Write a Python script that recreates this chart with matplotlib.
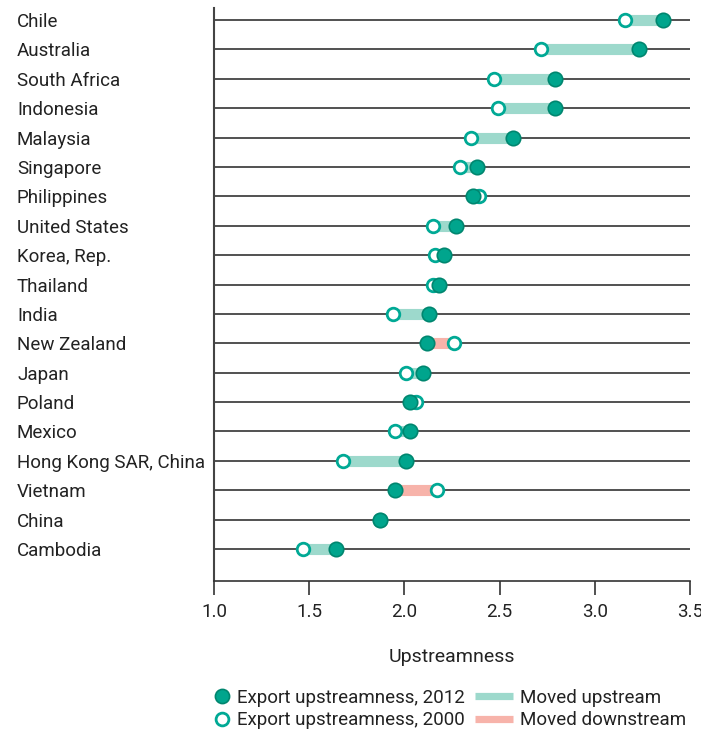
import matplotlib
matplotlib.use("Agg")
import matplotlib.pyplot as plt
from matplotlib.lines import Line2D
from matplotlib import font_manager as fm
from matplotlib.transforms import Bbox

countries = ["Chile", "Australia", "South Africa", "Indonesia", "Malaysia", "Singapore",
             "Philippines", "United States", "Korea, Rep.", "Thailand", "India", "New Zealand",
             "Japan", "Poland", "Mexico", "Hong Kong SAR, China", "Vietnam", "China", "Cambodia"]
up2000 = [3.16, 2.72, 2.47, 2.49, 2.35, 2.29, 2.39, 2.15, 2.16, 2.15, 1.94, 2.26,
          2.01, 2.06, 1.95, 1.68, 2.17, 1.87, 1.47]
up2012 = [3.36, 3.23, 2.79, 2.79, 2.57, 2.38, 2.36, 2.27, 2.21, 2.18, 2.13, 2.12,
          2.10, 2.03, 2.03, 2.01, 1.95, 1.87, 1.64]
xticks = [1.0, 1.5, 2.0, 2.5, 3.0, 3.5]

names = {f.name for f in fm.fontManager.ttflist}
fam = "Liberation Sans Narrow" if "Liberation Sans Narrow" in names else "Roboto"
plt.rcParams["font.family"] = [fam, "DejaVu Sans"]

TEAL = "#00A58D"
TEAL_EDGE = "#00866F"
OPEN_EDGE = "#00A995"
UP = "#9DD9CC"
DOWN = "#F7B3AA"
TXT = "#222222"
FS = 13.5

fig = plt.figure(figsize=(7.15, 7.38), dpi=100)
ax = fig.add_axes([214/715, 1-581/738, 476/715, 573/738])

n = len(countries)
ys = list(range(n))
for y in ys:
    ax.axhline(y, color="#222222", lw=1.1, zorder=1)

for y, a, b in zip(ys, up2000, up2012):
    col = UP if b >= a else DOWN
    ax.plot([a, b], [y, y], color=col, lw=8, solid_capstyle="butt", zorder=2)

ax.scatter(up2000, ys, s=82, facecolor="white", edgecolor=OPEN_EDGE, linewidth=2.0, zorder=3)
ax.scatter(up2012, ys, s=108, facecolor=TEAL, edgecolor=TEAL_EDGE, linewidth=1.2, zorder=4)

ax.set_xlim(1.0, 3.5)
ax.set_ylim(n - 1 + 1.09, -0.41)
ax.set_xticks(xticks)
ax.set_xticklabels([f"{v:.1f}" for v in xticks])
ax.set_yticks(ys)
ax.set_yticklabels(countries)
ax.tick_params(axis="y", length=0, pad=0, labelsize=FS, labelcolor=TXT)
for lab in ax.get_yticklabels():
    lab.set_horizontalalignment("left")
    lab.set_x(-197/476)
ax.tick_params(axis="x", length=10, width=1.2, color="#333333", pad=6, labelsize=FS, labelcolor=TXT)
for s in ["top", "right"]:
    ax.spines[s].set_visible(False)
ax.spines["left"].set_color("#444444")
ax.spines["left"].set_linewidth(1.5)
ax.spines["bottom"].set_color("#333333")
ax.spines["bottom"].set_linewidth(1.2)
ax.set_xlabel("Upstreamness", fontsize=14, color=TXT, labelpad=19.5)

# clip last tick label near the figure's right edge like the original
last = ax.get_xticklabels()[-1]
last.set_clip_box(Bbox([[0, 0], [701, 738]]))
last.set_clip_on(True)

mk_handles = [
    Line2D([], [], marker="o", ls="none", markersize=10.2, markerfacecolor=TEAL,
           markeredgecolor=TEAL_EDGE, markeredgewidth=1.2),
    Line2D([], [], marker="o", ls="none", markersize=9.2, markerfacecolor="white",
           markeredgecolor=OPEN_EDGE, markeredgewidth=2.0),
]
mk_labels = ["Export upstreamness, 2012", "Export upstreamness, 2000"]
ln_handles = [Line2D([], [], color=UP, lw=5.2, solid_capstyle="butt"),
              Line2D([], [], color=DOWN, lw=5.2, solid_capstyle="butt")]
ln_labels = ["Moved upstream", "Moved downstream"]

fig.legend(mk_handles, mk_labels, loc="center left",
           bbox_to_anchor=(214.5/715, 1-709/738), frameon=False,
           fontsize=FS, handlelength=0.8, handletextpad=0.4,
           labelspacing=0.25, borderpad=0, borderaxespad=0, labelcolor=TXT)
fig.legend(ln_handles, ln_labels, loc="center left",
           bbox_to_anchor=(475/715, 1-709/738), frameon=False,
           fontsize=FS, handlelength=2.03, handletextpad=0.37,
           labelspacing=0.25, borderpad=0, borderaxespad=0, labelcolor=TXT)

fig.savefig("out.png", dpi=100)
